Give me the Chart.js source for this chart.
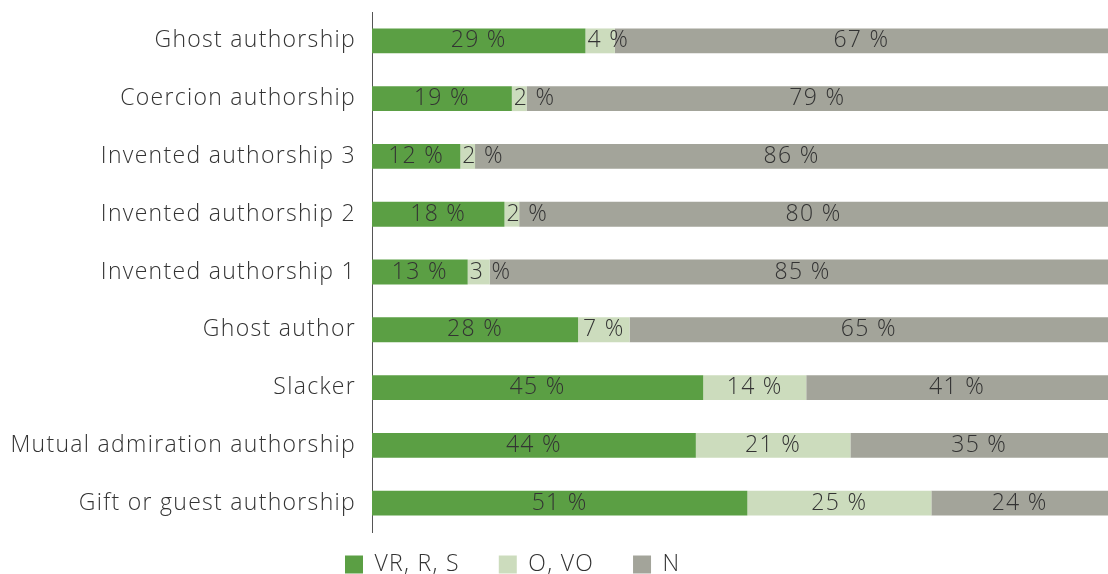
<!DOCTYPE html>
<html>
<head>
<meta charset="utf-8">
<script src="https://cdn.jsdelivr.net/npm/chart.js@4/dist/chart.umd.min.js"></script>
<style>
    html, body { margin: 0; padding: 0; background: #ffffff; }
    #wrap { width: 1108px; height: 574px; }
</style>
</head>
<body>
<div id="wrap"><canvas id="authorshipChart" width="1108" height="574"></canvas></div>
<script>
const categories = [
    'Ghost authorship',
    'Coercion authorship',
    'Invented authorship 3',
    'Invented authorship 2',
    'Invented authorship 1',
    'Ghost author',
    'Slacker',
    'Mutual admiration authorship',
    'Gift or guest authorship'
];
const seriesNames = ['VR, R, S', 'O, VO', 'N'];
const vrValues = [29, 19, 12, 18, 13, 28, 45, 44, 51];
const oValues = [4, 2, 2, 2, 3, 7, 14, 21, 25];
const nValues = [67, 79, 86, 80, 85, 65, 41, 35, 24];
const colors = ['#5b9f44', '#ccdcbd', '#a3a49a'];

const textColor = '#333333';
const fontFamily = '"Open Sans", Lato, sans-serif';
const fontSize = 23;

// the original font is wider, so spread letters a bit
const letterSpacing = {
    id: 'letterSpacing',
    beforeDraw(chart) {
        chart.ctx.letterSpacing = '1.3px';
    }
};

// legend sits a bit left of the canvas centre in the original
const legendShift = {
    id: 'legendShift',
    afterLayout(chart) {
        chart.legend.right -= 106;
    }
};

// draws "xx %" in the middle of every segment (pushed right if it doesn't fit)
const segmentLabels = {
    id: 'segmentLabels',
    afterDatasetsDraw(chart) {
        const ctx = chart.ctx;
        ctx.save();
        ctx.font = '300 ' + fontSize + 'px ' + fontFamily;
        ctx.fillStyle = textColor;
        ctx.textAlign = 'center';
        ctx.textBaseline = 'middle';
        chart.data.datasets.forEach((ds, i) => {
            const meta = chart.getDatasetMeta(i);
            meta.data.forEach((bar, j) => {
                const p = bar.getProps(['x', 'y', 'base'], true);
                const text = ds.data[j] + ' %';
                const w = ctx.measureText(text).width;
                const cx = Math.max((p.x + p.base) / 2, p.base + w / 2 + 2);
                ctx.fillText(text, cx, p.y);
            });
        });
        ctx.restore();
    }
};

const ctx = document.getElementById('authorshipChart').getContext('2d');
new Chart(ctx, {
    type: 'bar',
    data: {
        labels: categories,
        datasets: [
            {label: seriesNames[0], data: vrValues, backgroundColor: colors[0]},
            {label: seriesNames[1], data: oValues, backgroundColor: colors[1]},
            {label: seriesNames[2], data: nValues, backgroundColor: colors[2]}
        ]
    },
    options: {
        indexAxis: 'y',
        responsive: false,
        animation: false,
        layout: {padding: {top: 12, right: 0, left: 0, bottom: -12}},
        datasets: {
            bar: {barPercentage: 0.86, categoryPercentage: 0.5}
        },
        scales: {
            x: {
                stacked: true,
                min: 0,
                max: 100,
                display: false
            },
            y: {
                stacked: true,
                grid: {display: false, drawTicks: false},
                border: {display: true, color: '#555555', width: 1},
                ticks: {
                    color: textColor,
                    padding: 16,
                    font: {family: fontFamily, size: fontSize, weight: 300}
                },
                afterFit: (scale) => {
                    scale.width = 372;
                    scale.paddingTop = 0;
                    scale.paddingBottom = 0;
                }
            }
        },
        plugins: {
            legend: {
                position: 'bottom',
                align: 'center',
                labels: {
                    boxWidth: 18,
                    boxHeight: 18,
                    padding: 21,
                    color: textColor,
                    font: {family: fontFamily, size: fontSize, weight: 300},
                    generateLabels: (chart) => {
                        const items = Chart.defaults.plugins.legend.labels.generateLabels(chart);
                        // wider gap between legend entries
                        items.forEach((item, i) => {
                            if (i < items.length - 1) item.text = item.text + '\u2002\u2009';
                        });
                        return items;
                    }
                }
            },
            tooltip: {enabled: false}
        }
    },
    plugins: [letterSpacing, legendShift, segmentLabels]
});
</script>
</body>
</html>
